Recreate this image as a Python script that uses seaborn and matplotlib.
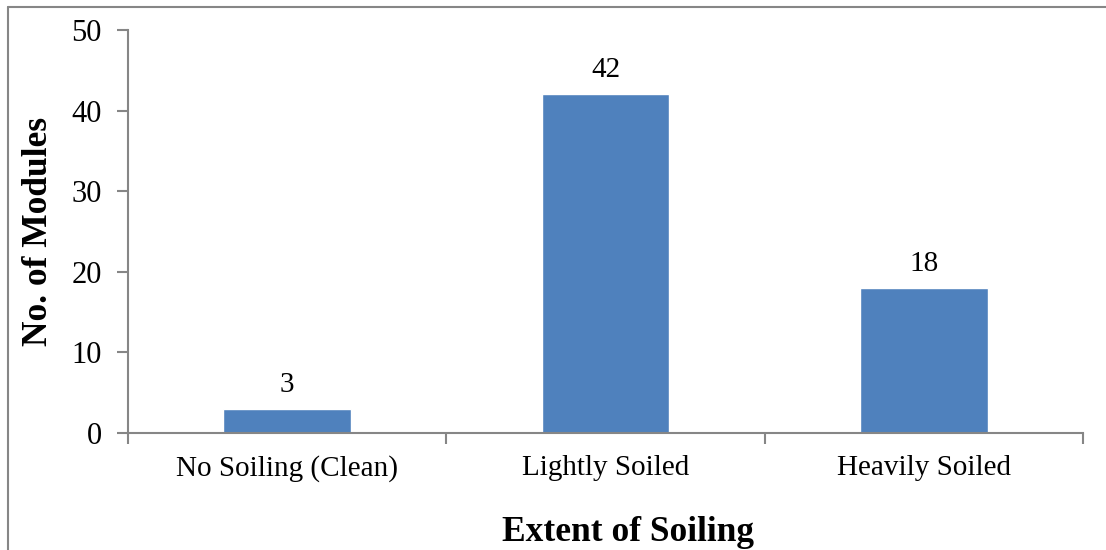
import matplotlib
matplotlib.use("Agg")
import matplotlib.pyplot as plt
import seaborn as sns
import pandas as pd
from matplotlib.lines import Line2D

categories = ["No Soiling (Clean)", "Lightly Soiled", "Heavily Soiled"]
modules = [3, 42, 18]
df = pd.DataFrame({"soiling": categories, "modules": modules})

sns.set_style("white")
plt.rcParams["font.family"] = ["Liberation Serif", "DejaVu Serif"]
plt.rcParams["text.color"] = "black"
plt.rcParams["axes.labelcolor"] = "black"
plt.rcParams["xtick.color"] = "black"
plt.rcParams["ytick.color"] = "black"

fig = plt.figure(figsize=(11.06, 5.5), dpi=100)
ax = fig.add_axes([128 / 1106, 1 - 433 / 550, (1083 - 128) / 1106, (433 - 30) / 550])

sns.barplot(data=df, x="soiling", y="modules", color="#4F81BD", saturation=1,
            width=0.4, ax=ax)

for i, v in enumerate(modules):
    ax.text(i, v + 1.4, str(v), ha="center", va="bottom", fontsize=21,
            color="black")

ax.set_ylim(0, 50)
ax.set_xlim(-0.5, 2.5)
ax.set_yticks(range(0, 51, 10))
ax.set_xticks([-0.5, 0.5, 1.5, 2.5], minor=False)
ax.set_xticklabels([])
ax.set_xticks([0, 1, 2], minor=True)
ax.set_xticklabels(categories, minor=True, fontsize=21)
ax.tick_params(axis="x", which="minor", bottom=True, length=0, pad=16,
               labelcolor="black")
ax.tick_params(axis="x", which="major", bottom=True, length=8, width=1.5,
               color="#868686", direction="out")
ax.tick_params(axis="y", left=True, length=8, width=1.5, color="#868686",
               direction="out", labelsize=22, pad=11, labelcolor="black")

for s in ["top", "right"]:
    ax.spines[s].set_visible(False)
for s in ["left", "bottom"]:
    ax.spines[s].set_color("#868686")
    ax.spines[s].set_linewidth(1.5)

ax.set_xlabel("Extent of Soiling", fontsize=25.5, fontweight="bold",
              color="black")
ax.xaxis.set_label_coords(0.5236, -0.205)
ax.set_ylabel("No. of Modules", fontsize=25.5, fontweight="bold", labelpad=12,
              color="black")

# outer chart border
fig.add_artist(Line2D([8 / 1106, 1.0], [1 - 7 / 550, 1 - 7 / 550],
                      transform=fig.transFigure, color="#868686", lw=1.5))
fig.add_artist(Line2D([8 / 1106, 8 / 1106], [0, 1 - 7 / 550],
                      transform=fig.transFigure, color="#868686", lw=1.5))

fig.savefig("out.png", dpi=100)
